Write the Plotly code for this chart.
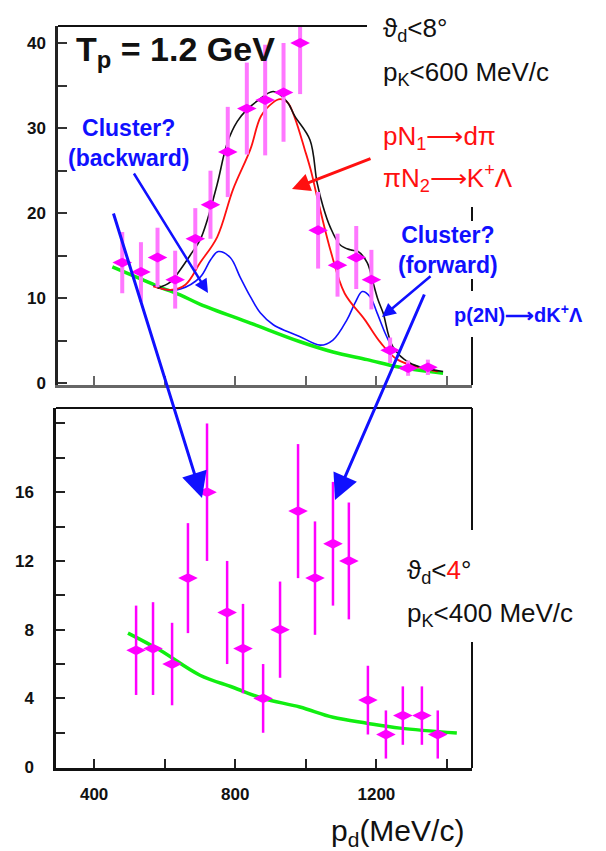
import plotly.graph_objects as go

# ---------------- data ----------------
# upper panel: theta_d < 8 deg, p_K < 600 MeV/c
top_p = [480, 533, 580, 630, 687, 730, 779, 833, 885, 937, 984, 1035, 1090, 1143, 1186, 1239, 1290, 1346]
top_counts = [14.2, 13.1, 14.8, 12.2, 17.0, 21.0, 27.2, 32.3, 33.3, 34.2, 40.0, 18.0, 13.9, 14.8, 12.2, 3.9, 1.8, 1.9]
top_err = [3.6, 3.5, 3.5, 3.4, 3.6, 4.0, 5.3, 5.4, 6.5, 5.8, 6.0, 4.5, 3.7, 3.7, 3.5, 1.5, 0.9, 0.9]

bg_top_p = [452, 532, 588, 644, 701, 843, 984, 1077, 1174, 1267, 1389]
bg_top_y = [13.7, 12.3, 11.3, 10.4, 9.3, 7.1, 4.9, 3.7, 2.8, 1.9, 1.2]

cluster_p = [568, 608, 645, 701, 730, 752, 786, 814, 843, 871, 908, 948, 984, 1041, 1077, 1117, 1140, 1160, 1182, 1202, 1225, 1248]
cluster_y = [11.5, 11.0, 11.1, 12.5, 14.5, 15.5, 14.8, 12.5, 10.2, 8.3, 6.9, 6.1, 5.5, 4.5, 5.1, 7.5, 9.5, 10.8, 10.2, 8.3, 5.9, 3.9]

two_step_p = [568, 616, 659, 701, 749, 794, 843, 873, 907, 927, 949, 969, 997, 1014, 1034, 1071, 1110, 1167, 1212, 1260, 1374]
two_step_y = [11.4, 11.0, 11.6, 14.2, 17.2, 22.8, 27.5, 31.4, 33.0, 33.4, 33.0, 31.2, 27.5, 25.1, 21.6, 15.5, 10.6, 7.5, 4.8, 2.8, 1.4]

total_p = [580, 616, 645, 673, 701, 721, 749, 778, 806, 834, 863, 908, 947, 969, 1012, 1032, 1049, 1069, 1097, 1126, 1148, 1174, 1191, 1205, 1219, 1247, 1295, 1389]
total_y = [11.2, 11.9, 13.4, 15.1, 16.9, 19.2, 23.4, 28.3, 30.8, 32.2, 33.2, 34.3, 33.1, 31.4, 28.6, 23.6, 20.8, 18.4, 16.3, 15.7, 15.5, 14.2, 11.8, 9.8, 8.3, 4.3, 2.4, 1.4]

# lower panel: theta_d < 4 deg, p_K < 400 MeV/c
bot_p = [519, 567, 621, 666, 720, 777, 822, 879, 927, 978, 1026, 1077, 1122, 1176, 1227, 1275, 1329, 1374]
bot_counts = [6.8, 6.9, 6.0, 11.0, 16.0, 9.0, 6.9, 4.0, 8.0, 14.9, 11.0, 13.0, 12.0, 3.9, 1.9, 3.0, 3.0, 1.9]
bot_err = [2.6, 2.7, 2.4, 3.2, 4.0, 3.0, 2.6, 2.0, 2.8, 3.9, 3.3, 3.6, 3.4, 2.0, 1.4, 1.7, 1.7, 1.4]

bg_bot_p = [496, 587, 700, 793, 878, 983, 1077, 1173, 1267, 1428]
bg_bot_y = [7.8, 6.8, 5.35, 4.65, 4.0, 3.5, 2.9, 2.56, 2.27, 1.98]

top_xticks = [400, 600, 800, 1000, 1200, 1400]
bot_xticks = [400, 800, 1200]
top_yticks = [0, 10, 20, 30, 40]
bot_yticks = [0, 4, 8, 12, 16]

# ---------------- figure ----------------
W, H = 606, 851
def px(x):
    return x / W
def py(y):
    return 1 - y / H

FONT = "Liberation Sans, Arial, Helvetica, sans-serif"
ARR = "⟶"
MAG = "#ff00ff"
PINK = "#ff77ff"
GREEN = "#11ee11"
BLUE = "#1010ff"
RED = "#ff1010"

fig = go.Figure()

# upper panel curves
fig.add_trace(go.Scatter(x=bg_top_p, y=bg_top_y, mode="lines", line=dict(color=GREEN, width=3.5, shape="spline"),
                         xaxis="x", yaxis="y", hoverinfo="skip"))
fig.add_trace(go.Scatter(x=cluster_p, y=cluster_y, mode="lines", line=dict(color=BLUE, width=1.6, shape="spline"),
                         xaxis="x", yaxis="y", hoverinfo="skip"))
fig.add_trace(go.Scatter(x=two_step_p, y=two_step_y, mode="lines", line=dict(color=RED, width=1.8, shape="spline"),
                         xaxis="x", yaxis="y", hoverinfo="skip"))
fig.add_trace(go.Scatter(x=total_p, y=total_y, mode="lines", line=dict(color="#111111", width=1.6, shape="spline"),
                         xaxis="x", yaxis="y", hoverinfo="skip"))
fig.add_trace(go.Scatter(x=top_p, y=top_counts, mode="markers",
                         marker=dict(symbol="diamond-wide", size=14, color=MAG),
                         error_y=dict(type="data", array=top_err, color=PINK, thickness=4, width=0),
                         xaxis="x", yaxis="y"))

# lower panel
fig.add_trace(go.Scatter(x=bg_bot_p, y=bg_bot_y, mode="lines", line=dict(color=GREEN, width=3.5, shape="spline"),
                         xaxis="x2", yaxis="y2", hoverinfo="skip"))
fig.add_trace(go.Scatter(x=bot_p, y=bot_counts, mode="markers",
                         marker=dict(symbol="diamond-wide", size=14, color=MAG),
                         error_y=dict(type="data", array=bot_err, color=MAG, thickness=2.5, width=0),
                         xaxis="x2", yaxis="y2"))

axis_common = dict(showgrid=False, zeroline=False, showline=True, linewidth=2.5,
                   ticks="inside", ticklen=9, tickwidth=2, automargin=False,
                   tickfont=dict(family=FONT, size=17, color="#111111", weight="bold"))

def minor(step, color):
    return dict(dtick=step, ticks="inside", ticklen=9, tickwidth=2, tickcolor=color, showgrid=False)

fig.update_layout(
    width=W, height=H, margin=dict(l=0, r=0, t=0, b=0),
    paper_bgcolor="white", plot_bgcolor="white", showlegend=False,
    font=dict(family=FONT, color="#111111"),
    xaxis=dict(domain=[px(58), px(472)], range=[298, 1471], anchor="y",
               tickvals=top_xticks, showticklabels=False, linecolor="#666666", tickcolor="#666666", **axis_common),
    yaxis=dict(domain=[py(385), py(26)], range=[-0.18, 42], anchor="x",
               tickvals=top_yticks, linecolor="#222222", tickcolor="#333333", minor=minor(5, "#333333"),
               ticklabelstandoff=6, **axis_common),
    xaxis2=dict(domain=[px(56), px(472)], range=[292, 1471], anchor="y2",
                tickvals=bot_xticks, linecolor="#111111", tickcolor="#222222", minor=minor(200, "#222222"),
                ticklabelstandoff=9, **axis_common),
    yaxis2=dict(domain=[py(768), py(408)], range=[-0.05, 20.9], anchor="x2",
                tickvals=bot_yticks, linecolor="#111111", tickcolor="#222222", minor=minor(2, "#222222"),
                ticklabelstandoff=16, **axis_common),
)

# partial frame lines (top / right edges broken by labels)
frame = [
    (58, 26, 367, 26),
    (472, 207, 472, 221), (472, 279, 472, 291), (472, 337, 472, 385),
    (56, 408, 472, 408),
    (472, 408, 472, 530), (472, 642, 472, 768),
]
for x0, y0, x1, y1 in frame:
    fig.add_shape(type="line", xref="paper", yref="paper", x0=px(x0), y0=py(y0), x1=px(x1), y1=py(y1),
                  line=dict(color="#111111", width=2))

def text(s, x, y, size, color="#111111", xanchor="left", align="left"):
    fig.add_annotation(text=s, x=px(x), y=py(y), xref="paper", yref="paper", showarrow=False,
                       xanchor=xanchor, yanchor="middle", align=align,
                       font=dict(family=FONT, size=size, color=color))

text("<b>T<sub>p</sub> = 1.2 GeV</b>", 74, 52, 34)
text("ϑ<sub>d</sub>&lt;8°", 381, 30, 26)
text("p<sub>K</sub>&lt;600 MeV/c", 381, 74, 26)
text("pN<sub>1</sub>" + ARR + "dπ", 381, 137, 26, RED)
text("πN<sub>2</sub>" + ARR + "K<sup>+</sup>Λ", 381, 178, 26, RED)
text("<b>Cluster?<br>(backward)</b>", 128, 143, 23, BLUE, xanchor="center", align="center")
text("<b>Cluster?<br>(forward)</b>", 448, 250, 23, BLUE, xanchor="center", align="center")
text("<b>p(2N)" + ARR + "dK<sup>+</sup>Λ</b>", 452, 313, 20, BLUE)
text("ϑ<sub>d</sub>&lt;<span style='color:#ff1010'>4</span>°", 405, 571, 26)
text("p<sub>K</sub>&lt;400 MeV/c", 405, 614, 26)
text("p<sub>d</sub>(MeV/c)", 397, 832, 30, xanchor="center")

def arrow(tail, tip, color, width, size):
    fig.add_annotation(text="", x=px(tip[0]), y=py(tip[1]), xref="paper", yref="paper",
                       ax=tail[0] - tip[0], ay=tail[1] - tip[1], axref="pixel", ayref="pixel",
                       showarrow=True, arrowhead=2, arrowwidth=width, arrowsize=size, arrowcolor=color)

arrow((372, 158), (292, 189), RED, 3, 1.2)
arrow((133, 172), (208, 293), BLUE, 2.5, 1.1)
arrow((432, 275), (382, 317), BLUE, 2.5, 1.1)
arrow((113, 212), (202, 498), BLUE, 3, 1.7)
arrow((425, 293), (335, 500), BLUE, 3, 1.7)

fig.write_html("out.html")
